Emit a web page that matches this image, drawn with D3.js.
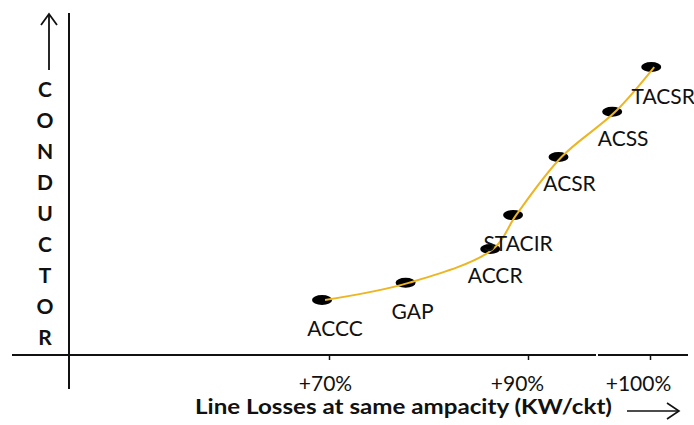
<!DOCTYPE html>
<html>
<head>
<meta charset="utf-8">
<script src="https://cdn.jsdelivr.net/npm/d3@7"></script>
<style>
  html, body { margin: 0; padding: 0; background: #fff; }
  svg { display: block; }
  text { font-family: Lato, "Open Sans", sans-serif; fill: #111; }
</style>
</head>
<body>
<svg id="chart" width="694" height="425"></svg>
<script>
// ---- data ----
const conductors = ["ACCC", "GAP", "ACCR", "STACIR", "ACSR", "ACSS", "TACSR"];
const lineLosses = [69.3, 77.7, 86.2, 88.5, 92.5, 96.9, 100.1];   // % (x)
const conductorRank = [16.1, 21.1, 31.0, 40.9, 57.9, 71.1, 84.2]; // relative position (y)
const tickValues = [70, 90, 100];
const tickLabels = ["+70%", "+90%", "+100%"];
const yLetters = "CONDUCTOR".split("");
const xTitle = "Line Losses at same ampacity (KW/ckt)";

// label offsets relative to points (layout)
const labelDx = [13, 7, 5, 5, 11, 11, 12];
const labelDy = [28, 28, 26, 27, 26, 26, 28];
const tickDx = [-4, -11, -12];

const svg = d3.select("#chart");

const x = d3.scaleLinear().domain([70, 90, 100]).range([329, 528, 650]);
const y = d3.scaleLinear().domain([0, 100]).range([355, 13]);

const axisY = 355, axisX = 69;

// horizontal axis line (with small break like reference)
svg.append("line").attr("x1", 12).attr("x2", 596).attr("y1", axisY).attr("y2", axisY)
  .attr("stroke", "#111").attr("stroke-width", 2);
svg.append("line").attr("x1", 598).attr("x2", 688).attr("y1", axisY).attr("y2", axisY)
  .attr("stroke", "#111").attr("stroke-width", 2);

// vertical axis line
svg.append("line").attr("x1", axisX).attr("x2", axisX).attr("y1", 13).attr("y2", 389)
  .attr("stroke", "#111").attr("stroke-width", 2);

// x axis ticks via d3 axis
const xAxis = d3.axisBottom(x).tickValues(tickValues)
  .tickFormat((d, i) => tickLabels[i]).tickSize(5).tickPadding(16);
const gx = svg.append("g").attr("transform", `translate(0,${axisY})`).call(xAxis);
gx.select(".domain").remove();
gx.selectAll(".tick line").attr("stroke", "#111").attr("stroke-width", 1.5);
gx.selectAll(".tick text")
  .attr("x", (d, i) => tickDx[i])
  .attr("y", 21)
  .style("font-family", "Lato, 'Open Sans', sans-serif")
  .style("font-size", "21px").attr("fill", "#111");

// x title
svg.append("text").attr("x", 195).attr("y", 414)
  .attr("textLength", 417).attr("lengthAdjust", "spacingAndGlyphs")
  .style("font-size", "21px").style("font-weight", "bold").text(xTitle);

// arrow (bottom right)
svg.append("line").attr("x1", 627).attr("x2", 678).attr("y1", 411).attr("y2", 411)
  .attr("stroke", "#111").attr("stroke-width", 1.6);
svg.append("path").attr("d", "M667,403 L679,411 L667,419").attr("fill", "none")
  .attr("stroke", "#111").attr("stroke-width", 1.6);

// arrow (top left)
svg.append("line").attr("x1", 49).attr("x2", 49).attr("y1", 70).attr("y2", 14)
  .attr("stroke", "#111").attr("stroke-width", 1.8);
svg.append("path").attr("d", "M41,25 L49,14 L57,25").attr("fill", "none")
  .attr("stroke", "#111").attr("stroke-width", 1.8);

// vertical letters
const letterY = d3.scalePoint().domain(d3.range(yLetters.length)).range([88, 336]);
svg.selectAll("text.letter").data(yLetters).join("text")
  .attr("class", "letter")
  .attr("x", 45).attr("y", (d, i) => letterY(i))
  .attr("text-anchor", "middle").attr("dominant-baseline", "central")
  .style("font-size", "21px").style("font-weight", "bold").text(d => d);

// data
const pts = conductors.map((c, i) => ({ name: c, x: lineLosses[i], y: conductorRank[i], i }));

// points (ellipses)
svg.selectAll("ellipse.pt").data(pts).join("ellipse")
  .attr("class", "pt")
  .attr("cx", d => x(d.x)).attr("cy", d => y(d.y))
  .attr("rx", 10).attr("ry", 5).attr("fill", "#000");

// curve
const line = d3.line().x(d => x(d.x) + 3).y(d => y(d.y)).curve(d3.curveCatmullRom.alpha(0.5));
svg.append("path").datum(pts).attr("d", line)
  .attr("fill", "none").attr("stroke", "#EDB522").attr("stroke-width", 2);

// labels
svg.selectAll("text.lbl").data(pts).join("text")
  .attr("class", "lbl")
  .attr("x", d => x(d.x) + labelDx[d.i]).attr("y", d => y(d.y) + labelDy[d.i])
  .attr("text-anchor", "middle").attr("dominant-baseline", "central")
  .style("font-size", "21px").text(d => d.name);
</script>
</body>
</html>
